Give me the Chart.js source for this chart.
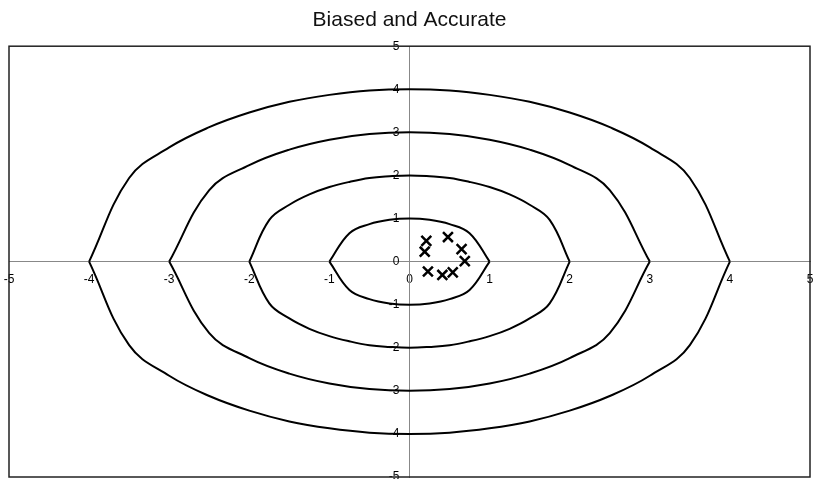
<!DOCTYPE html>
<html>
<head>
<meta charset="utf-8">
<script src="https://cdn.jsdelivr.net/npm/chart.js@4/dist/chart.umd.min.js"></script>
<style>
  body { margin: 0; background: #fff; }
  #wrap { width: 813px; height: 479px; }
</style>
</head>
<body>
<div id="wrap"><canvas id="target"></canvas></div>
<script>
// Ring outlines (upper halves, lower half is mirrored)
const ring1X = [-1, -0.75, -0.5, -0.25, 0, 0.25, 0.5, 0.75, 1];
const ring1Y = [0, 0.66, 0.87, 0.97, 1, 0.97, 0.87, 0.66, 0];
const ring2X = [-2, -1.75, -1.5, -1.25, -1, -0.75, -0.5, -0.25, 0, 0.25, 0.5, 0.75, 1, 1.25, 1.5, 1.75, 2];
const ring2Y = [0, 0.97, 1.32, 1.56, 1.73, 1.85, 1.94, 1.98, 2, 1.98, 1.94, 1.85, 1.73, 1.56, 1.32, 0.97, 0];
const ring3X = [-3, -2.5, -2, -1.5, -1, -0.5, 0, 0.5, 1, 1.5, 2, 2.5, 3];
const ring3Y = [0, 1.66, 2.24, 2.6, 2.83, 2.96, 3, 2.96, 2.83, 2.6, 2.24, 1.66, 0];
const ring4X = [-4, -3.5, -3, -2.5, -2, -1.5, -1, -0.5, 0, 0.5, 1, 1.5, 2, 2.5, 3, 3.5, 4];
const ring4Y = [0, 1.94, 2.65, 3.12, 3.46, 3.71, 3.87, 3.97, 4, 3.97, 3.87, 3.71, 3.46, 3.12, 2.65, 1.94, 0];

// Shots
const shotX = [0.21, 0.19, 0.48, 0.65, 0.69, 0.23, 0.41, 0.54];
const shotY = [0.48, 0.23, 0.57, 0.29, 0.01, -0.23, -0.31, -0.25];

const axisTicks = [-5, -4, -3, -2, -1, 0, 1, 2, 3, 4, 5];

function toPoints(xs, ys, sign) {
  return xs.map((x, i) => ({ x: x, y: sign * ys[i] }));
}

const ringStyle = {
  showLine: true,
  borderColor: "#000",
  borderWidth: 2,
  pointRadius: 0,
  tension: 0.4,
  fill: false,
};

const datasets = [];
[[ring1X, ring1Y], [ring2X, ring2Y], [ring3X, ring3Y], [ring4X, ring4Y]].forEach(([xs, ys]) => {
  datasets.push(Object.assign({ data: toPoints(xs, ys, 1) }, ringStyle));
  datasets.push(Object.assign({ data: toPoints(xs, ys, -1) }, ringStyle));
});
datasets.push({
  data: toPoints(shotX, shotY, 1),
  showLine: false,
  pointStyle: "crossRot",
  pointRadius: 7,
  borderColor: "#000",
  borderWidth: 2.5,
});

// Frame around the plot area
const frame = {
  id: "frame",
  afterDraw(chart) {
    const { ctx, chartArea: a } = chart;
    ctx.save();
    ctx.strokeStyle = "#222";
    ctx.lineWidth = 1.5;
    ctx.strokeRect(a.left, a.top, a.right - a.left, a.bottom - a.top);
    ctx.restore();
  },
};

// axes sit inside the plot, so no extra room for their labels
function noPad(scale) {
  scale.paddingLeft = 0;
  scale.paddingRight = 0;
  scale.paddingTop = 0;
  scale.paddingBottom = 0;
}

const tickFont = { family: "'Liberation Sans', Arial, sans-serif", size: 12 };

new Chart(document.getElementById("target"), {
  type: "scatter",
  data: { datasets: datasets },
  options: {
    responsive: true,
    maintainAspectRatio: false,
    animation: false,
    layout: { autoPadding: false, padding: { left: 9, right: 3, bottom: 2, top: 0 } },
    plugins: {
      legend: { display: false },
      tooltip: { enabled: false },
      title: {
        display: true,
        text: "Biased and Accurate",
        color: "#111",
        font: { family: "'Liberation Sans', Arial, sans-serif", size: 21, weight: "normal" },
        padding: { top: 8, bottom: 13 },
      },
    },
    scales: {
      x: {
        type: "linear",
        position: { y: 0 },
        min: -5,
        max: 5,
        afterBuildTicks: (s) => { s.ticks = axisTicks.map((v) => ({ value: v })); },
        afterFit: noPad,
        grid: { display: false },
        border: { display: true, color: "#888", width: 1 },
        ticks: { color: "#000", font: tickFont, padding: 3, maxRotation: 0, autoSkip: false },
      },
      y: {
        type: "linear",
        position: { x: 0 },
        min: -5,
        max: 5,
        afterBuildTicks: (s) => { s.ticks = axisTicks.map((v) => ({ value: v })); },
        afterFit: noPad,
        grid: { display: false },
        border: { display: true, color: "#888", width: 1 },
        ticks: { color: "#000", font: tickFont, autoSkip: false, callback: (v) => v + "   " },
      },
    },
  },
  plugins: [frame],
});
</script>
</body>
</html>
